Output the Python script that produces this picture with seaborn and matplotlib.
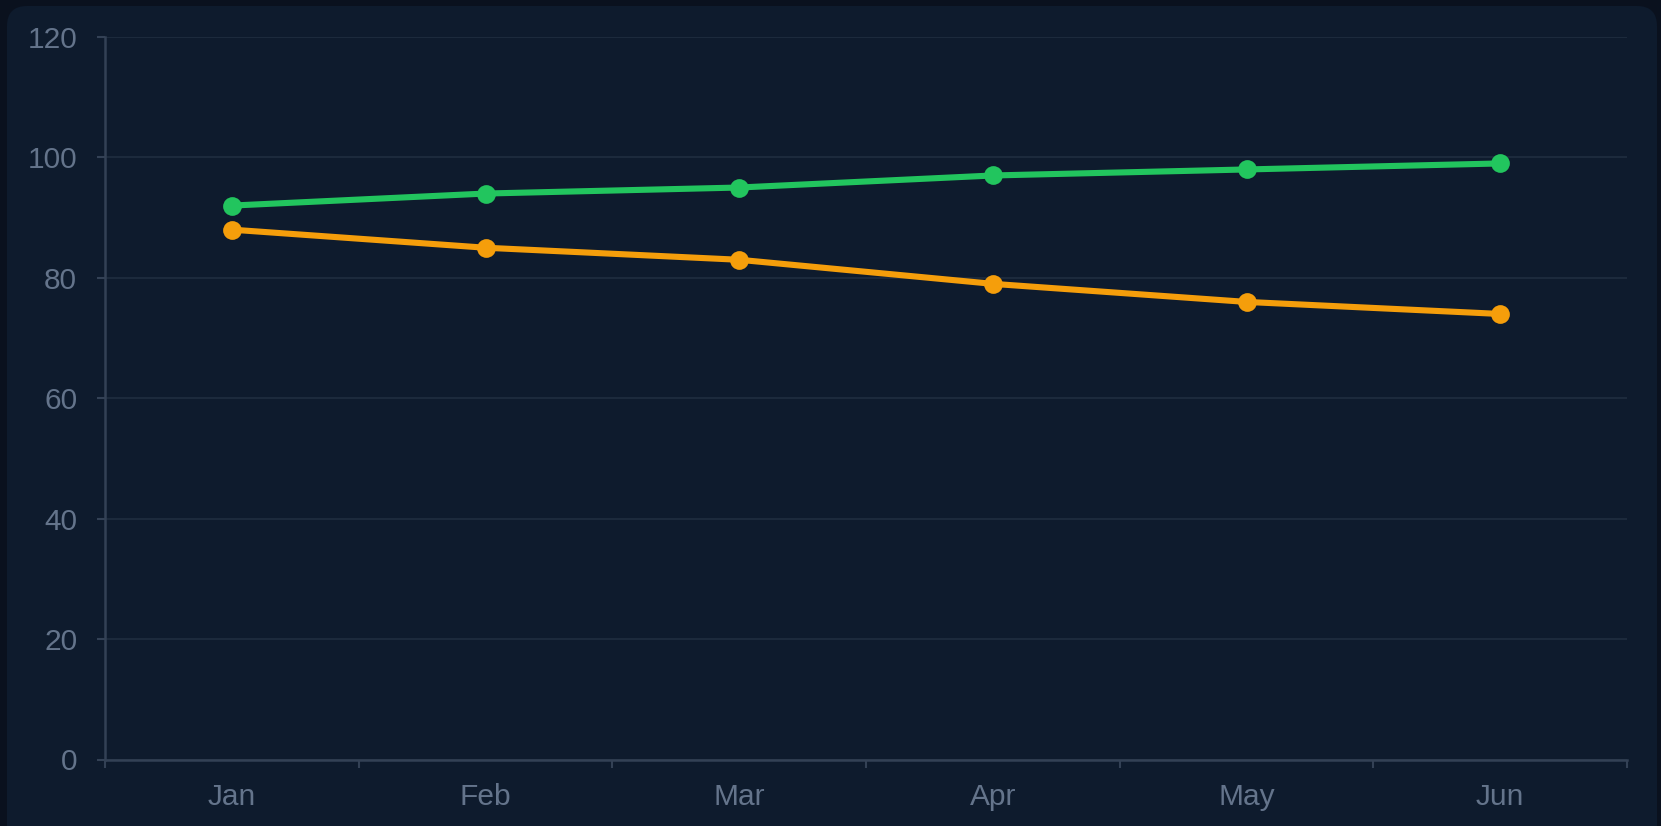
import pandas as pd
import numpy as np
import matplotlib
matplotlib.use('Agg')
from matplotlib import pyplot as plt
from matplotlib.patches import FancyBboxPatch
from matplotlib.transforms import IdentityTransform
import seaborn as sns

# ===================================================================
# Chart data
# ===================================================================
months = ['Jan', 'Feb', 'Mar', 'Apr', 'May', 'Jun']
green_values = [92, 94, 95, 97, 98, 99]
orange_values = [88, 85, 83, 79, 76, 74]
y_ticks = [0, 20, 40, 60, 80, 100, 120]

df = pd.DataFrame({
    'month': months * 2,
    'pos': list(range(len(months))) * 2,
    'value': green_values + orange_values,
    'series': ['green'] * len(months) + ['orange'] * len(months),
})

sns.set_theme(style='dark')
plt.rcParams['font.family'] = ['Liberation Sans', 'DejaVu Sans']

outer_bg = '#0a111e'
card_bg = '#0e1b2d'
grid_col = '#1c2a3c'
axis_col = '#334155'
text_col = '#64748b'

fig = plt.figure(figsize=(16.61, 8.26), dpi=100)
fig.patch.set_facecolor(outer_bg)

# rounded card behind the plot (pixel coordinates, origin bottom-left)
card = FancyBboxPatch((7, -30), 1650, 850,
                      boxstyle='round,pad=0,rounding_size=20',
                      facecolor=card_bg, edgecolor='none', zorder=-10)
card.set_transform(IdentityTransform())
fig.patches.append(card)

ax = fig.add_axes([105 / 1661, 1 - 759.5 / 826, (1627 - 105) / 1661, (759.5 - 37) / 826])
ax.set_facecolor(card_bg)
ax.patch.set_alpha(0)

sns.lineplot(data=df, x='pos', y='value', hue='series',
             palette={'green': '#22c55e', 'orange': '#f59e0b'},
             linewidth=4.4, marker='o', markersize=13.5, markeredgewidth=0,
             legend=False, ax=ax, zorder=3)

ax.set_xlim(-0.5, len(months) - 0.5)
ax.set_ylim(0, 120)

# x: ticks on category boundaries, labels centred on categories
ax.set_xticks(np.arange(-0.5, len(months), 1.0))
ax.set_xticklabels([])
ax.set_xticks(range(len(months)), minor=True)
ax.set_xticklabels(months, minor=True)
ax.tick_params(axis='x', which='major', length=6, width=1.5, color=axis_col, bottom=True)
ax.tick_params(axis='x', which='minor', length=0, pad=17, labelsize=21.5, labelcolor=text_col)

ax.set_yticks(y_ticks)
ax.set_yticklabels([str(t) for t in y_ticks])
ax.tick_params(axis='y', length=6, width=1.5, color=axis_col, pad=14,
               labelsize=21.5, labelcolor=text_col, left=True)

ax.grid(axis='y', color=grid_col, linewidth=1.5)
ax.grid(axis='x', visible=False)
ax.set_axisbelow(True)

for side in ['top', 'right']:
    ax.spines[side].set_visible(False)
for side in ['left', 'bottom']:
    ax.spines[side].set_visible(True)
    ax.spines[side].set_color(axis_col)
    ax.spines[side].set_linewidth(1.8)

ax.set_xlabel('')
ax.set_ylabel('')

plt.savefig('out.png', dpi=100, facecolor=outer_bg)
